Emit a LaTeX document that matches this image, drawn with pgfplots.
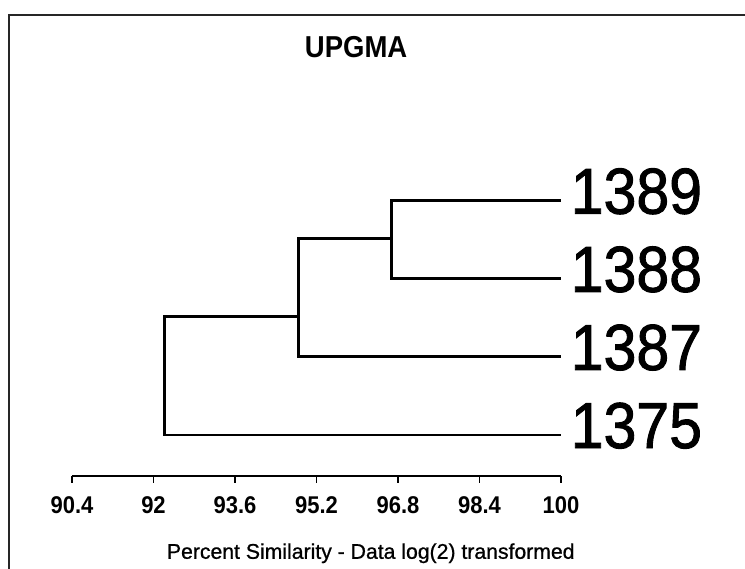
\documentclass[border=0pt]{standalone}
\usepackage{fontspec}
\setmainfont{Liberation Sans}
\newfontfamily\heavy[FakeBold=1.5]{Liberation Sans}
\newfontfamily\semiheavy[FakeBold=0.8]{Liberation Sans}
\usepackage{graphicx}
\usepackage{pgfplots}
\pgfplotsset{compat=1.18}
\newcommand{\st}[1]{\scalebox{1}[1.1]{#1}}

\begin{document}
\begin{tikzpicture}[x=1pt,y=1pt]
\useasboundingbox (0,0) rectangle (745,-569);
% outer frame (only top and left edges are visible)
\draw[line width=1.6pt, black!85] (9,-580) -- (9,-15) -- (760,-15);
\begin{axis}[
    at={(72pt,-475.7pt)}, anchor=south west,
    scale only axis, width=489pt, height=321.9pt,
    xmin=90.4, xmax=100, ymin=0.479, ymax=4.6,
    clip=false,
    axis x line=bottom, axis y line=right,
    x axis line style={-, line width=1.8pt},
    y axis line style={draw=none},
    xtick={90.4,92,93.6,95.2,96.8,98.4,100},
    xticklabels={\st{90.4},\st{92},\st{93.6},\st{95.2},\st{96.8},\st{98.4},\st{100}},
    xtick align=outside, major tick length=7pt,
    xtick style={black, line width=1.8pt},
    xticklabel style={anchor=north, inner sep=0pt, yshift=-14pt,
        font=\fontsize{22}{22}\selectfont\bfseries},
    ytick={1,2,3,4},
    yticklabels={\st{1375},\st{1387},\st{1388},\st{1389}},
    ytick align=inside, ytick style={draw=none},
    yticklabel style={anchor=base west, inner sep=0pt, xshift=9.6pt, yshift=-13pt,
        font=\heavy\fontsize{59}{59}\selectfont},
    title={\st{UPGMA}},
    title style={at={(axis description cs:0.581,1)}, anchor=north, inner sep=0pt,
        yshift=112pt, font=\fontsize{27.5}{27.5}\selectfont\bfseries},
    xlabel={Percent Similarity - Data log(2) transformed},
    xlabel style={at={(axis description cs:0.611,0)}, anchor=north, inner sep=0pt,
        yshift=-67.5pt, font=\semiheavy\fontsize{21.2}{21.2}\selectfont},
]
\addplot[black, line width=2.9pt, line join=miter, unbounded coords=jump] coordinates {
    (100,4) (96.68,4) (96.68,3) (100,3)
    (nan,nan)
    (96.68,3.52) (94.84,3.52) (94.84,2) (100,2)
    (nan,nan)
    (94.84,2.515) (92.21,2.515) (92.21,1) (100,1)
};
\end{axis}
\end{tikzpicture}
\end{document}
